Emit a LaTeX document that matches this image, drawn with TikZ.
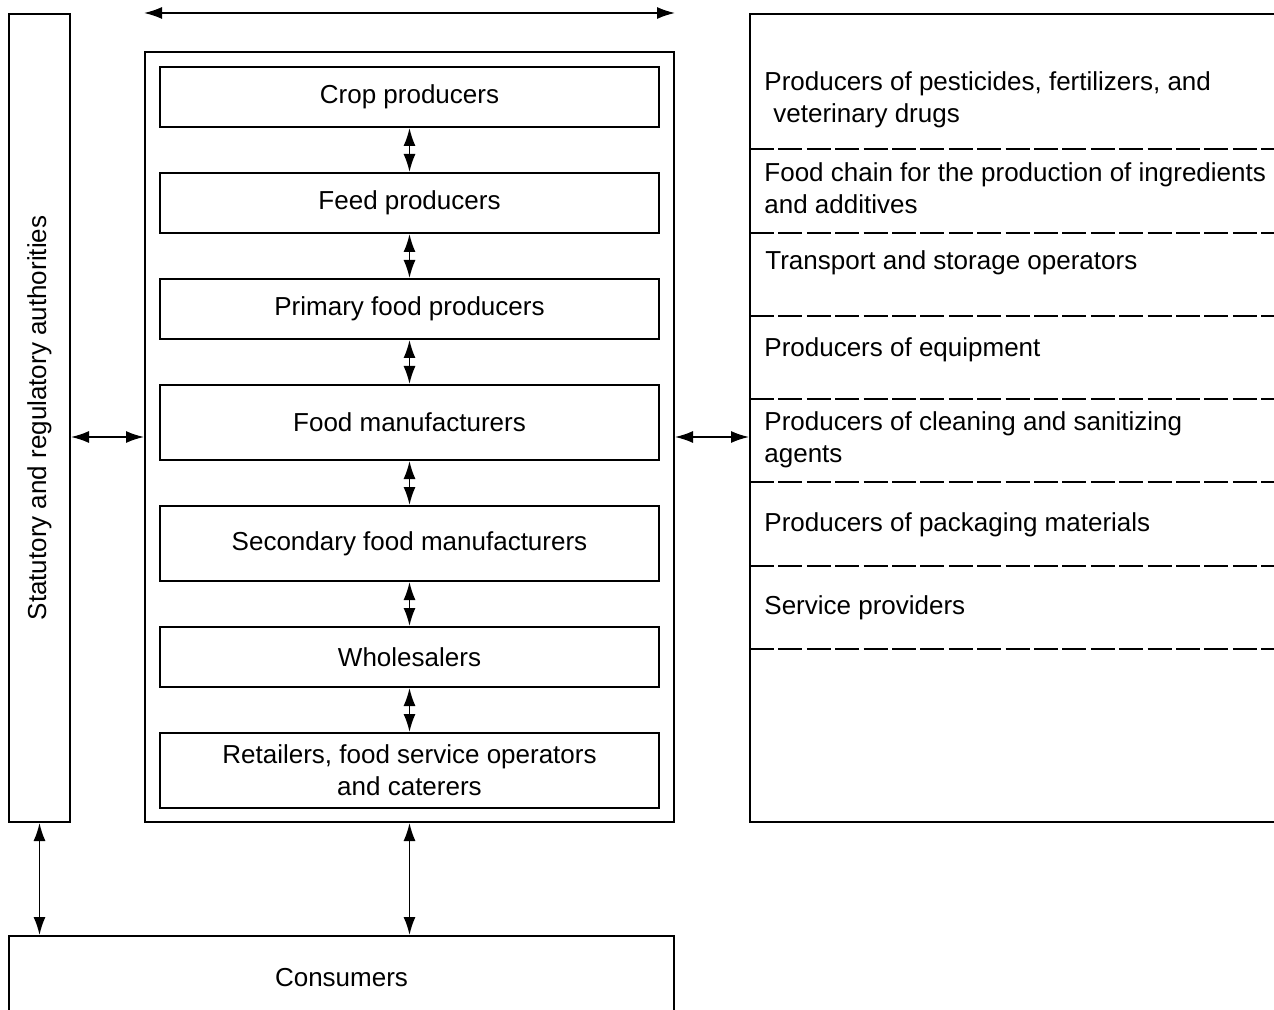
\documentclass[tikz,border=0pt]{standalone}
\usepackage{fontspec}
\setmainfont{Liberation Sans}
\usetikzlibrary{arrows.meta,positioning}

\begin{document}
\begin{tikzpicture}[x=0.5pt,y=-0.5pt,>={Latex[length=9pt,width=6pt]},node distance=22pt,
    every node/.style={font=\fontsize{13pt}{16pt}\selectfont},
    frame/.style={draw,line width=1pt,inner sep=0pt},
    stage/.style={frame,minimum width=249.5pt,minimum height=30pt,align=center},
    tall/.style={stage,minimum height=37.5pt},
    item/.style={anchor=west,align=left,inner sep=0pt},
    sep/.style={line width=1pt,dash pattern=on 12pt off 2.2pt},
    link/.style={<->,line width=0.8pt}]

            \useasboundingbox (0,0) rectangle (1274,1010);
            \clip (0,0) rectangle (1274,1010);

            \node[frame,minimum width=264.5pt,minimum height=385pt] (chain) at (409.5,437) {};

            \node[stage] (crop) at (409.5,97) {Crop producers};

            \node[stage] (feed) [below=of crop] {Feed producers};

            \node[stage] (prim) [below=of feed] {Primary food producers};

            \node[tall] (manu) [below=of prim] {Food manufacturers};

            \node[tall] (sec) [below=of manu] {Secondary food manufacturers};

            \node[stage] (whole) [below=of sec] {Wholesalers};

            \node[tall] (retail) [below=of whole] {Retailers, food service operators\\and caterers};

            \node[frame,rotate=90,minimum width=404pt,minimum height=30.5pt] (auth) at (39.5,418) {Statutory and regulatory authorities};

            \node[frame,minimum width=265pt,minimum height=404pt] (supp) at (1015,418) {};

            \node[frame,minimum width=332.5pt,minimum height=42pt] (cons) at (341.5,978) {Consumers};

            % suppliers around the chain
            \foreach \y in {149,233,316,399,482,566,649}
                \draw[sep] (750,\y) -- (1274,\y);

            \node[item] (pest) at (764,100) {Producers of pesticides, fertilizers, and\\\hspace*{4.5pt}veterinary drugs};

            \node[item] (ingr) at (764,188) {Food chain for the production of ingredients\\and additives};

            \node[item] (trans) at (765,263) {Transport and storage operators};

            \node[item] (equip) at (764,350) {Producers of equipment};

            \node[item] (clean) at (764,440) {Producers of cleaning and sanitizing\\agents};

            \node[item] (pack) at (764,525) {Producers of packaging materials};

            \node[item] (serv) at (764,608) {Service providers};

            \coordinate (tl) at ([yshift=19pt]chain.north west);
            \coordinate (tr) at ([yshift=19pt]chain.north east);

            \path[link] (crop) edge (feed)
                        (feed) edge (prim)
                        (prim) edge (manu)
                        (manu) edge (sec)
                        (sec) edge (whole)
                        (whole) edge (retail)
                        (tl) edge (tr)
                        (chain.west) edge (chain.west -| auth.south)
                        (chain.east) edge (chain.east -| supp.west)
                        (auth.west) edge (auth.west |- cons.north)
                        (chain.south) edge (chain.south |- cons.north);

        \end{tikzpicture}
\end{document}
